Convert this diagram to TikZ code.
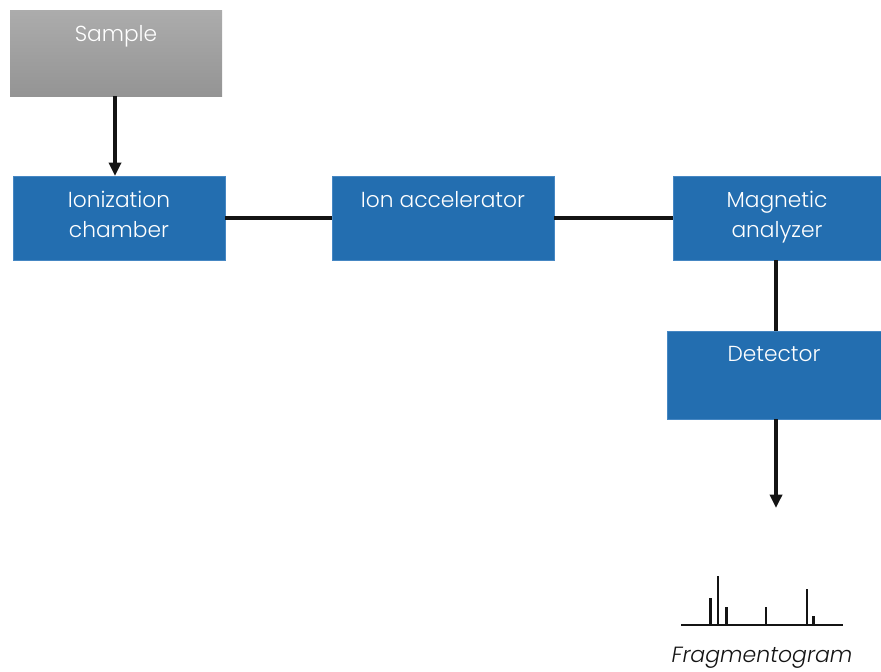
\documentclass[tikz,border=0pt]{standalone}
\usepackage{fontspec}
\setmainfont{Poppins Light}[ItalicFont={Poppins Light Italic}]
\usetikzlibrary{arrows.meta}
\definecolor{boxblue}{RGB}{35,110,176}
\definecolor{boxedge}{RGB}{70,135,195}
\definecolor{greytop}{RGB}{172,172,172}
\definecolor{greybot}{RGB}{148,148,148}
\definecolor{ink}{RGB}{20,20,20}
\tikzset{
  stage/.style={fill=boxblue, draw=boxedge, line width=0.5pt, inner sep=0pt},
  greystage/.style={top color=greytop, bottom color=greybot, draw=none, inner sep=0pt},
  boxtext/.style={text=white, anchor=north, align=center, inner sep=0pt,
    font=\fontsize{16.3}{22.5}\selectfont, yshift=-11.5pt},
  link/.style={draw=ink, line width=2.6pt},
  flow/.style={link, -{Triangle[width=9pt,length=10pt]}},
  peak/.style={draw=ink, line width=1.7pt}
}
\begin{document}
\begin{tikzpicture}[x=0.75pt,y=-0.75pt]
\useasboundingbox (0,0) rectangle (881,671);

% process stages
\node[greystage, minimum width=159pt, minimum height=64.5pt,
      label={[boxtext]north:Sample}] (sample) at (116,53) {};
\node[stage, minimum width=159pt, minimum height=63pt,
      label={[boxtext]north:Ionization\\chamber}] (ion) at (119,218) {};
\node[stage, minimum width=166.5pt, minimum height=63pt,
      label={[boxtext]north:Ion accelerator}] (acc) at (443,218) {};
\node[stage, minimum width=156pt, minimum height=63pt,
      label={[boxtext]north:Magnetic\\analyzer}] (mag) at (777,218) {};
\node[stage, minimum width=160.5pt, minimum height=66pt,
      label={[boxtext]north:Detector}] (det) at (774,375) {};
\coordinate (out) at (776,508);

% connections
\draw[flow] (sample.south -| 115,0) -- (115,176);
\draw[link] (ion.east) -- (acc.west);
\draw[link] (acc.east) -- (mag.west);
\draw[link] (mag.south -| 776,0) -- (det.north -| 776,0);
\draw[flow] (det.south -| out) -- (out);

% fragmentogram sketch
\draw[peak] (681,625) -- (843,625);
\foreach \px/\py in {710.5/598, 718/576, 726.5/607, 766/607, 807/589, 813.5/616}
  \draw[peak] (\px,625) -- (\px,\py);
\node[font=\fontsize{16.5}{20}\selectfont\itshape, text=ink] (fragtext) at (762,658) {Fragmentogram};
\end{tikzpicture}
\end{document}
